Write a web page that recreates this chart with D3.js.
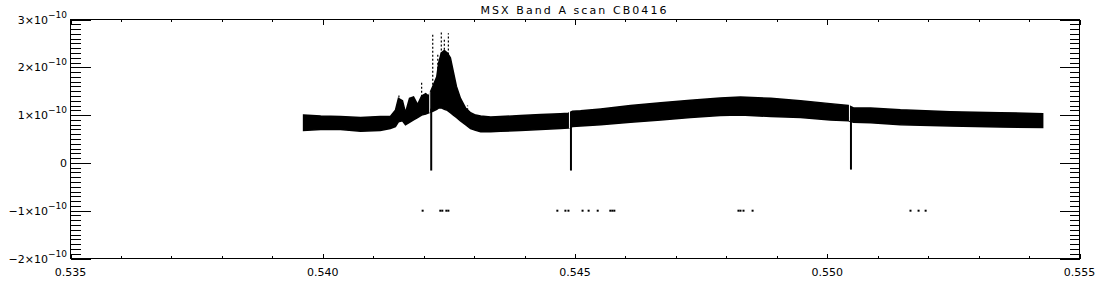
<!DOCTYPE html>
<html>
<head>
<meta charset="utf-8">
<script src="https://cdn.jsdelivr.net/npm/d3@7"></script>
<style>
  html, body { margin: 0; padding: 0; background: #fff; }
  svg { display: block; }
  text { font-family: "DejaVu Sans", sans-serif; fill: #000; }
</style>
</head>
<body>
<svg id="chart" width="1100" height="300"></svg>
<script>
// ---------- data (y in units of 1e-10) ----------
const title = "MSX Band A scan CB0416";
const UNIT = 1e-10;

const xMajorTicks = [0.535, 0.540, 0.545, 0.550, 0.555];
const xTickLabels = ["0.535", "0.540", "0.545", "0.550", "0.555"];
const yMajorTicks = [-2, -1, 0, 1, 2, 3];
const yTickMantissa = ["−2×10", "−1×10", "0", "1×10", "2×10", "3×10"];
const yTickExponent = ["−10", "−10", "", "−10", "−10", "−10"];

// envelope of the dense noisy trace
const bandX = [0.53962, 0.53996, 0.54035, 0.54075, 0.54114, 0.54134, 0.54144, 0.54150, 0.54158, 0.54164,
  0.54172, 0.54180, 0.54188, 0.54196, 0.54204, 0.54210, 0.54218, 0.54226, 0.54230, 0.54235,
  0.54241, 0.54247, 0.54253, 0.54259, 0.54265, 0.54273, 0.54283, 0.54293, 0.54303, 0.54313,
  0.54333, 0.54352, 0.54392, 0.54432, 0.54471, 0.54487, 0.54495, 0.54511, 0.54551, 0.54610,
  0.54670, 0.54729, 0.54788, 0.54828, 0.54888, 0.54947, 0.55006, 0.55042, 0.55052, 0.55086,
  0.55145, 0.55244, 0.55343, 0.55427];
const bandHigh = [1.00, 0.98, 0.97, 0.95, 0.97, 0.97, 1.10, 1.35, 1.30, 1.05,
  1.35, 1.38, 1.22, 1.40, 1.45, 1.40, 1.60, 1.80, 2.10, 2.30,
  2.35, 2.30, 2.20, 1.90, 1.60, 1.35, 1.15, 1.05, 1.00, 0.98,
  0.96, 0.97, 0.99, 1.01, 1.03, 1.04, 1.08, 1.09, 1.13, 1.20,
  1.26, 1.31, 1.36, 1.38, 1.35, 1.30, 1.24, 1.20, 1.15, 1.15,
  1.11, 1.07, 1.05, 1.03];
const bandLow = [0.68, 0.70, 0.70, 0.66, 0.68, 0.72, 0.76, 0.86, 0.88, 0.80,
  0.85, 0.90, 0.95, 1.00, 1.02, 1.05, 1.08, 1.12, 1.15, 1.15,
  1.12, 1.10, 1.05, 1.00, 0.95, 0.88, 0.80, 0.72, 0.68, 0.65,
  0.65, 0.66, 0.68, 0.70, 0.72, 0.73, 0.76, 0.77, 0.80, 0.85,
  0.90, 0.95, 0.99, 1.00, 0.97, 0.95, 0.90, 0.88, 0.85, 0.84,
  0.80, 0.77, 0.75, 0.74];

// narrow negative dips
const dipX = [0.54214, 0.54491, 0.55046];
const dipTop = [1.45, 1.04, 1.20];
const dipBandLow = [1.05, 0.73, 0.88];
const dipMin = [-0.16, -0.16, -0.14];

// scattered spikes above the band near the main peak
const spikeX = [0.54151, 0.54196, 0.54218, 0.54228, 0.54235, 0.54241, 0.54249, 0.54257, 0.54287];
const spikeLo = [1.20, 1.30, 1.55, 1.80, 2.10, 2.20, 2.10, 1.70, 1.10];
const spikeHi = [1.42, 1.72, 2.71, 2.30, 2.77, 2.60, 2.71, 1.80, 1.20];

// flagged samples plotted at -1e-10
const flagX = [0.54198, 0.54233, 0.54237, 0.54245, 0.54249, 0.54465, 0.54481, 0.54487, 0.54515, 0.54527,
  0.54545, 0.54570, 0.54574, 0.54578, 0.54824, 0.54828, 0.54834, 0.54852, 0.55165, 0.55181, 0.55195];
const flagValue = -1;

// ---------- drawing ----------
const svg = d3.select("#chart");
const L = 70.5, R = 1079.5, T = 19.5, B = 258.5;

const x = d3.scaleLinear().domain([0.535, 0.555]).range([L, R]);
const y = d3.scaleLinear().domain([-2 * UNIT, 3 * UNIT]).range([B, T]);

const plot = svg.append("g");

// band
const band = bandX.map((d, i) => ({x: d, lo: bandLow[i] * UNIT, hi: bandHigh[i] * UNIT}));
plot.append("path")
  .datum(band)
  .attr("d", d3.area().x(d => x(d.x)).y0(d => y(d.lo)).y1(d => y(d.hi)))
  .attr("fill", "#000").attr("stroke", "#000").attr("stroke-width", 1.5);

// spikes (columns of scattered samples)
plot.selectAll("line.spike")
  .data(spikeX.map((d, i) => ({x: d, lo: spikeLo[i] * UNIT, hi: spikeHi[i] * UNIT})))
  .join("line").attr("class", "spike")
  .attr("x1", d => x(d.x)).attr("x2", d => x(d.x))
  .attr("y1", d => y(d.lo)).attr("y2", d => y(d.hi))
  .attr("stroke", "#000").attr("stroke-width", 1.2)
  .attr("stroke-dasharray", "2,2");

// dips: white gap through the band and the black dip line
const dips = dipX.map((d, i) => ({x: d, top: dipTop[i] * UNIT, low: dipBandLow[i] * UNIT, min: dipMin[i] * UNIT}));
plot.selectAll("line.gap")
  .data(dips).join("line").attr("class", "gap")
  .attr("x1", d => x(d.x) - 1).attr("x2", d => x(d.x) - 1)
  .attr("y1", d => y(d.top) - 2).attr("y2", d => y(d.low))
  .attr("stroke", "#fff").attr("stroke-width", 1);
plot.selectAll("line.dip")
  .data(dips).join("line").attr("class", "dip")
  .attr("x1", d => x(d.x) + 0.5).attr("x2", d => x(d.x) + 0.5)
  .attr("y1", d => y(d.low) - 4).attr("y2", d => y(d.min))
  .attr("stroke", "#000").attr("stroke-width", 2);

// flagged points
plot.selectAll("rect.flag")
  .data(flagX).join("rect").attr("class", "flag")
  .attr("x", d => x(d) - 1).attr("y", y(flagValue * UNIT) - 1)
  .attr("width", 2).attr("height", 2).attr("fill", "#000");

// ---------- axes (IDL style: ticks inside on all four sides) ----------
const xMinor = d3.range(0.535, 0.5551, 0.001).map(v => +v.toFixed(4));
const yMinor = d3.range(-20, 31, 1).map(v => v / 10 * UNIT);
const yMajor = yMajorTicks.map(v => v * UNIT);

function addAxis(gen, transform) {
  const g = svg.append("g").attr("transform", transform).call(gen);
  g.select(".domain").remove();
  g.selectAll("line").attr("stroke", "#000").attr("shape-rendering", "crispEdges");
  g.selectAll("text").remove();
  return g;
}
addAxis(d3.axisBottom(x).tickValues(xMinor).tickSize(-2.5).tickFormat(""), `translate(0,${B})`);
addAxis(d3.axisBottom(x).tickValues(xMajorTicks).tickSize(-5).tickFormat(""), `translate(0,${B})`);
addAxis(d3.axisTop(x).tickValues(xMinor).tickSize(-2.5).tickFormat(""), `translate(0,${T})`);
addAxis(d3.axisTop(x).tickValues(xMajorTicks).tickSize(-5).tickFormat(""), `translate(0,${T})`);
addAxis(d3.axisLeft(y).tickValues(yMinor).tickSize(-10).tickFormat(""), `translate(${L},0)`);
addAxis(d3.axisLeft(y).tickValues(yMajor).tickSize(-20).tickFormat(""), `translate(${L},0)`);
addAxis(d3.axisRight(y).tickValues(yMinor).tickSize(-10).tickFormat(""), `translate(${R},0)`);
addAxis(d3.axisRight(y).tickValues(yMajor).tickSize(-20).tickFormat(""), `translate(${R},0)`);

// frame
svg.append("rect")
  .attr("x", L).attr("y", T).attr("width", R - L).attr("height", B - T)
  .attr("fill", "none").attr("stroke", "#000").attr("stroke-width", 1)
  .attr("shape-rendering", "crispEdges");

// x labels
svg.selectAll("text.xl")
  .data(xMajorTicks).join("text").attr("class", "xl")
  .attr("x", d => x(d)).attr("y", 276)
  .attr("text-anchor", "middle").attr("font-size", 11)
  .text((d, i) => xTickLabels[i]);

// y labels with superscript exponent
const yl = svg.selectAll("text.yl")
  .data(yMajorTicks).join("text").attr("class", "yl")
  .attr("x", 67).attr("y", d => y(d * UNIT) + 4)
  .attr("text-anchor", "end").attr("font-size", 11);
yl.append("tspan").text((d, i) => yTickMantissa[i]);
yl.append("tspan").attr("dy", -6).attr("font-size", 9).text((d, i) => yTickExponent[i]);

// title
svg.append("text")
  .attr("x", 573.5).attr("y", 13.5)
  .attr("text-anchor", "middle").attr("font-size", 11)
  .attr("textLength", 186).attr("lengthAdjust", "spacing")
  .text(title);
</script>
</body>
</html>
